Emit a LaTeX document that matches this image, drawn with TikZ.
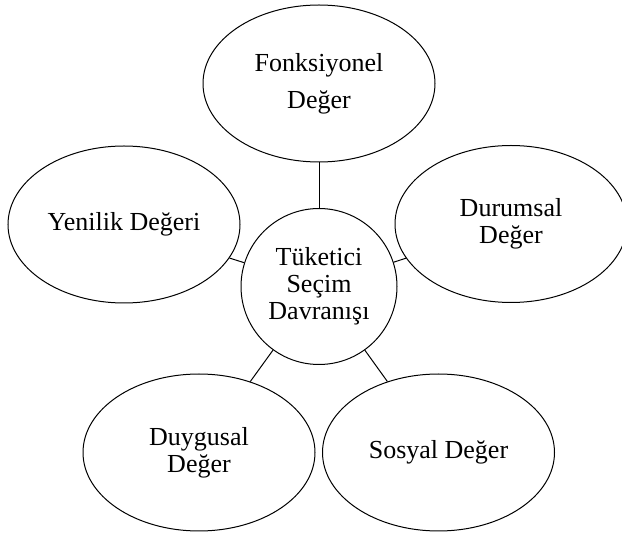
\documentclass[tikz,border=0pt]{standalone}
\usepackage{fontspec}
\setmainfont{Liberation Serif}
\usetikzlibrary{shapes.geometric}
\usetikzlibrary{positioning}
\tikzset{x=0.5pt, y=-0.5pt,
value/.style={ % Sets the properties for each value ellipse
ellipse,
draw,
line width=0.5pt,
minimum width=116pt,
minimum height=78.5pt,
inner sep=0pt,
align=center,
font=\fontsize{13}{13.5}\selectfont},
core/.style={ % The central behaviour circle
circle,
draw,
line width=0.5pt,
minimum size=78pt,
inner sep=0pt,
align=center,
font=\fontsize{13}{13.5}\selectfont},
every edge/.style={ % Plain links, no arrow heads
draw,
line width=0.5pt}}

\begin{document}
\begin{tikzpicture}
	\useasboundingbox (0,0) rectangle (622,534);
	\node[core] (tuketici) at (319,286.5) {Tüketici\\Seçim\\Davranışı};
	\node[value] (fonk) at (319,83.5) {Fonksiyonel\\[4.8pt]Değer};
	\node[value] (yenilik) at (124,224.5) {Yenilik Değeri};
	\node[value] (durumsal) at (511,224) {Durumsal\\Değer};
	\node[value] (duygusal) at (199,452.5) {Duygusal\\Değer};
	\node[value] (sosyal) at (438.5,452.5) {Sosyal Değer};
	\draw (tuketici) edge (fonk);
	\draw (tuketici) edge (yenilik);
	\draw (tuketici) edge (durumsal);
	\draw (tuketici) edge (duygusal);
	\draw (tuketici) edge (sosyal);
\end{tikzpicture}
\end{document}
